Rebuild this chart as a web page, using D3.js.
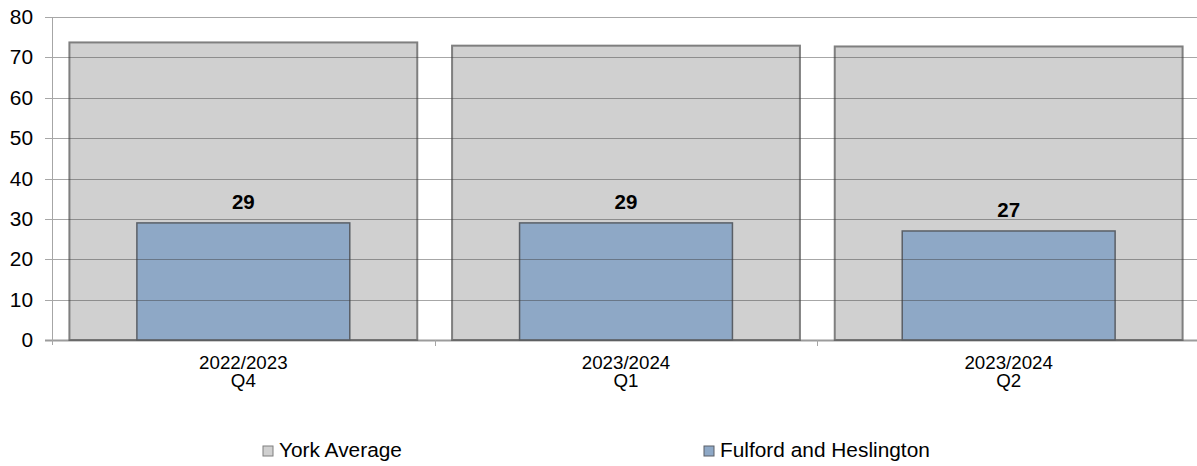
<!DOCTYPE html>
<html><head><meta charset="utf-8">
<script src="https://cdn.jsdelivr.net/npm/d3@7"></script>
<style>body{margin:0;background:#fff}svg{display:block;font-family:"Liberation Sans",Arial,sans-serif}</style>
</head><body>
<svg id="c" width="1197" height="466"></svg>
<script>
const categories = [["2022/2023","Q4"],["2023/2024","Q1"],["2023/2024","Q2"]];
const yorkAverage = [73.7, 72.9, 72.7];
const fulford = [29, 29, 27];
const yTicks = [0,10,20,30,40,50,60,70,80];
const seriesNames = ["York Average","Fulford and Heslington"];

const SX = 1.07;
const svg = d3.select("#c");
const m = {l:52, t:17};
const W = 1197;
const x = d3.scaleBand().domain(d3.range(categories.length)).range([m.l, 1200]).paddingInner(0.091).paddingOuter(0.0455);
const xc = d3.scaleBand().domain(d3.range(categories.length)).range([m.l, 1200]);
const y = d3.scaleLinear().domain([0,80]).range([340, m.t]);
const tf = (px,py)=>`translate(${px},${py}) scale(${SX},1)`;

// York bars
svg.append("g").selectAll("rect").data(yorkAverage).join("rect")
  .attr("x",(d,i)=>x(i)).attr("width",x.bandwidth())
  .attr("y",d=>y(d)).attr("height",d=>y(0)-y(d))
  .attr("fill","#d0d0d0").attr("stroke","#7f7f7f").attr("stroke-width",2);
// Fulford bars
const fw = x.bandwidth()*0.612;
svg.append("g").selectAll("rect").data(fulford).join("rect")
  .attr("x",(d,i)=>xc(i)+xc.bandwidth()/2-fw/2).attr("width",fw)
  .attr("y",d=>y(d)).attr("height",d=>y(0)-y(d))
  .attr("fill","#8ea8c6").attr("stroke","#5a5f66").attr("stroke-width",1.5);

// gridlines on top
svg.append("g").selectAll("line").data(yTicks.filter(t=>t>0)).join("line")
  .attr("x1",m.l-7).attr("x2",W).attr("y1",d=>Math.round(y(d))+0.5).attr("y2",d=>Math.round(y(d))+0.5)
  .attr("stroke","rgba(60,60,60,0.45)").attr("stroke-width",1);
// baseline
svg.append("line").attr("x1",m.l-7).attr("x2",W).attr("y1",340.5).attr("y2",340.5).attr("stroke","rgba(90,90,90,0.6)").attr("stroke-width",2);
// y axis line
svg.append("line").attr("x1",m.l+0.5).attr("x2",m.l+0.5).attr("y1",m.t).attr("y2",345).attr("stroke","#a6a6a6");
// x ticks
svg.append("g").selectAll("line").data(d3.range(1,categories.length)).join("line")
  .attr("x1",i=>Math.round(xc(i))+0.5).attr("x2",i=>Math.round(xc(i))+0.5).attr("y1",340).attr("y2",346).attr("stroke","#a6a6a6");

// y labels
svg.append("g").selectAll("text").data(yTicks).join("text")
  .attr("transform",d=>tf(33,y(d)+7)).attr("text-anchor","end").attr("font-size",19.5).attr("fill","#000").text(d=>d);

// x labels
const xg = svg.append("g").selectAll("g").data(categories).join("g");
xg.each(function(d,i){
  const g=d3.select(this);
  d.forEach((s,j)=>g.append("text").attr("transform",tf(xc(i)+xc.bandwidth()/2,369+j*17.5))
    .attr("text-anchor","middle").attr("font-size",17.5).attr("fill","#000").text(s));
});

// value labels
svg.append("g").selectAll("text").data(fulford).join("text")
  .attr("transform",(d,i)=>`translate(${xc(i)+xc.bandwidth()/2},${y(d)-14})`)
  .attr("text-anchor","middle").attr("font-size",20.5).attr("font-weight","bold").text(d=>d);

// legend
const leg = [{n:seriesNames[0],f:"#d0d0d0",s:"#7f7f7f",x:263},{n:seriesNames[1],f:"#8ea8c6",s:"#5a5f66",x:704}];
const lg = svg.append("g").selectAll("g").data(leg).join("g");
lg.append("rect").attr("x",d=>d.x).attr("y",446).attr("width",10).attr("height",10).attr("fill",d=>d.f).attr("stroke",d=>d.s);
lg.append("text").attr("transform",d=>tf(d.x+16,457)).attr("font-size",19.5).text(d=>d.n);
</script>
</body></html>
